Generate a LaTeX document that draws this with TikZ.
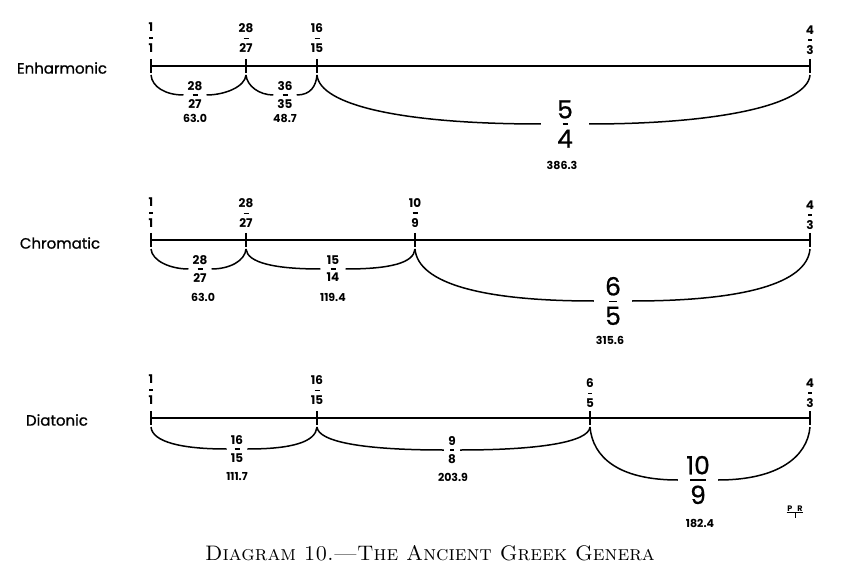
\documentclass[tikz,border=0pt]{standalone}
\usepackage{fontspec}
\newfontfamily\fut{Poppins}
\newfontfamily\futm{Poppins}[FakeBold=0.8]
\newcommand\frg[4]{\shortstack{#3\\[#2]\rule{#1}{1.3pt}\\[#2]#4}}
\newcommand\arcpair[6]{%
  \draw[arcline] (#1) to[out=-85,in=180,out distance=#4,in distance=#5] (#2.west);
  \draw[arcline] (#2.east) to[out=0,in=-95,out distance=#6,in distance=#4] (#3);}
\tikzset{
  x=1pt,y=1pt,
  axis/.style={line width=2.6pt},
  tickmark/.style={line width=1.4pt},
  arcline/.style={line width=1.5pt},
  toplab/.style={anchor=south,inner sep=0pt,font=\fut\bfseries\fontsize{12}{13}\selectfont},
  smallfr/.style={inner xsep=4pt,inner ysep=0pt,font=\fut\bfseries\fontsize{12}{13}\selectfont},
  bigfr/.style={inner xsep=11pt,inner ysep=0pt,font=\futm\fontsize{25}{28}\selectfont},
  cents/.style={inner sep=0pt,font=\fut\bfseries\fontsize{11}{12}\selectfont},
  genus/.style={inner sep=0pt,font=\futm\fontsize{15}{17}\selectfont},
}
\begin{document}
\begin{tikzpicture}
\useasboundingbox (0,0) rectangle (856,-585);
% ---------------- Enharmonic ----------------
\node[genus] (g1) at (62,-68) {Enharmonic};
\coordinate (E0) at (151,-66); \coordinate (E1) at (246,-66);
\coordinate (E2) at (317,-66); \coordinate (E3) at (810,-66);
\draw[axis] (E0) -- (E3);
\foreach \p in {E0,E1,E2,E3} \draw[tickmark] ([yshift=7pt]\p) -- ([yshift=-7pt]\p);
\node[toplab] (tE0) at (151,-53) {\frg{4pt}{2.5pt}{1}{1}};
\node[toplab] (tE1) at (246,-53) {\frg{5pt}{2pt}{28}{27}};
\node[toplab] (tE2) at (317,-53) {\frg{5pt}{2pt}{16}{15}};
\node[toplab] (tE3) at (810,-55) {\frg{4pt}{2pt}{4}{3}};
\coordinate (E0d) at (151,-75); \coordinate (E1d) at (246,-75);
\coordinate (E2d) at (317,-75); \coordinate (E3d) at (810,-75);
\node[smallfr] (iE1) at (195,-95) {\frg{5pt}{0.5pt}{28}{27}};
\node[smallfr] (iE2) at (285,-95) {\frg{5pt}{0.5pt}{36}{35}};
\node[bigfr,inner xsep=16pt] (iE3) at (565,-124) {\frg{5pt}{2pt}{5}{4}};
\node[cents] (cE1) at (195,-118) {63.0};
\node[cents] (cE2) at (285,-118) {48.7};
\node[cents] (cE3) at (562,-165) {386.3};
\arcpair{E0d}{iE1}{E1d}{12pt}{18pt}{18pt}
\arcpair{E1d}{iE2}{E2d}{11pt}{14pt}{14pt}
\arcpair{E2d}{iE3}{E3d}{30pt}{140pt}{130pt}
% ---------------- Chromatic ----------------
\node[genus] (g2) at (60,-243) {Chromatic};
\coordinate (C0) at (151,-240); \coordinate (C1) at (246,-240);
\coordinate (C2) at (415,-240); \coordinate (C3) at (810,-240);
\draw[axis] (C0) -- (C3);
\foreach \p in {C0,C1,C2,C3} \draw[tickmark] ([yshift=7pt]\p) -- ([yshift=-7pt]\p);
\node[toplab] (tC0) at (151,-228) {\frg{4pt}{2.5pt}{1}{1}};
\node[toplab] (tC1) at (246,-228) {\frg{5pt}{2pt}{28}{27}};
\node[toplab] (tC2) at (415,-228) {\frg{5pt}{2pt}{10}{9}};
\node[toplab] (tC3) at (810,-230) {\frg{4pt}{2pt}{4}{3}};
\coordinate (C0d) at (151,-249); \coordinate (C1d) at (246,-249);
\coordinate (C2d) at (415,-249); \coordinate (C3d) at (810,-249);
\node[smallfr] (iC1) at (200,-269) {\frg{5pt}{0.5pt}{28}{27}};
\node[smallfr,inner xsep=6pt] (iC2) at (333,-269) {\frg{5pt}{0.5pt}{15}{14}};
\node[bigfr] (iC3) at (613,-301) {\frg{8pt}{2pt}{6}{5}};
\node[cents] (cC1) at (203,-297) {63.0};
\node[cents] (cC2) at (333,-297) {119.4};
\node[cents] (cC3) at (610,-340) {315.6};
\arcpair{C0d}{iC1}{C1d}{12pt}{18pt}{18pt}
\arcpair{C1d}{iC2}{C2d}{14pt}{45pt}{45pt}
\arcpair{C2d}{iC3}{C3d}{35pt}{110pt}{110pt}
% ---------------- Diatonic ----------------
\node[genus] (g3) at (57,-420) {Diatonic};
\coordinate (D0) at (151,-418); \coordinate (D1) at (317,-418);
\coordinate (D2) at (590,-418); \coordinate (D3) at (810,-418);
\draw[axis] (D0) -- (D3);
\foreach \p in {D0,D1,D2,D3} \draw[tickmark] ([yshift=7pt]\p) -- ([yshift=-7pt]\p);
\node[toplab] (tD0) at (151,-405) {\frg{4pt}{2.5pt}{1}{1}};
\node[toplab] (tD1) at (317,-405) {\frg{5pt}{2pt}{16}{15}};
\node[toplab] (tD2) at (590,-408) {\frg{4pt}{2pt}{6}{5}};
\node[toplab] (tD3) at (810,-408) {\frg{4pt}{2pt}{4}{3}};
\coordinate (D0d) at (151,-427); \coordinate (D1d) at (317,-427);
\coordinate (D2d) at (590,-427); \coordinate (D3d) at (810,-427);
\node[smallfr] (iD1) at (237,-449) {\frg{5pt}{0.5pt}{16}{15}};
\node[smallfr] (iD2) at (452,-450) {\frg{4pt}{0.5pt}{9}{8}};
\node[bigfr,inner xsep=8pt] (iD3) at (698,-480) {\frg{16pt}{2pt}{10}{9}};
\node[cents] (cD1) at (237,-477) {111.7};
\node[cents] (cD2) at (453,-477) {203.9};
\node[cents] (cD3) at (700,-523) {182.4};
\arcpair{D0d}{iD1}{D1d}{15pt}{45pt}{45pt}
\arcpair{D1d}{iD2}{D2d}{15pt}{80pt}{80pt}
\arcpair{D2d}{iD3}{D3d}{30pt}{60pt}{60pt}
% ---------------- monogram and caption ----------------
\node[inner sep=0.6pt,font=\fut\bfseries\fontsize{8}{9}\selectfont] (pr) at (795,-509) {P\hspace{5pt}R};
\draw[line width=1pt] (pr.south west) -- (pr.south east);
\draw[line width=1pt] (pr.south) -- ++(0,-5);
\node[font=\rmfamily\fontsize{21}{24}\selectfont] (cap) at (430,-553) {\textsc{Diagram 10.\textemdash The Ancient Greek Genera}};
\end{tikzpicture}
\end{document}
